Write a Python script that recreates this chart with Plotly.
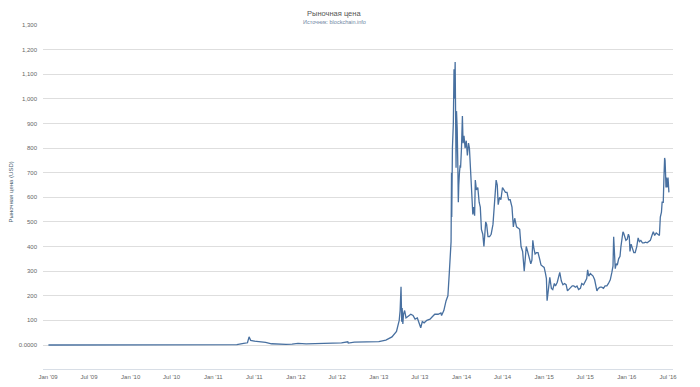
import plotly.graph_objects as go

dates = [
    "2009-01-03", "2009-07-01", "2010-01-01", "2010-07-17", "2010-11-06", "2011-02-10", "2011-04-15",
    "2011-05-15", "2011-06-01", "2011-06-08", "2011-06-15", "2011-07-01", "2011-08-01", "2011-08-20",
    "2011-09-15", "2011-10-20", "2011-11-18", "2011-12-15", "2012-01-10", "2012-02-15", "2012-03-15",
    "2012-05-01", "2012-06-15", "2012-07-20", "2012-08-17", "2012-08-19", "2012-09-15", "2012-10-20",
    "2012-12-01", "2013-01-01", "2013-02-01", "2013-02-28", "2013-03-20", "2013-04-01", "2013-04-05",
    "2013-04-09", "2013-04-12", "2013-04-14", "2013-04-17", "2013-04-20", "2013-04-25", "2013-05-01",
    "2013-05-08", "2013-05-15", "2013-05-22", "2013-06-01", "2013-06-10", "2013-06-20", "2013-06-28",
    "2013-07-05", "2013-07-12", "2013-07-20", "2013-08-01", "2013-08-15", "2013-08-25", "2013-09-05",
    "2013-09-20", "2013-10-02", "2013-10-05", "2013-10-15", "2013-10-25", "2013-11-02", "2013-11-08",
    "2013-11-12", "2013-11-16", "2013-11-18", "2013-11-19", "2013-11-22", "2013-11-26", "2013-11-29",
    "2013-12-01", "2013-12-04", "2013-12-06", "2013-12-08", "2013-12-10", "2013-12-13", "2013-12-16",
    "2013-12-18", "2013-12-20", "2013-12-23", "2013-12-26", "2013-12-28", "2014-01-01", "2014-01-05",
    "2014-01-08", "2014-01-12", "2014-01-17", "2014-01-22", "2014-01-27", "2014-02-01", "2014-02-05",
    "2014-02-10", "2014-02-14", "2014-02-20", "2014-02-24", "2014-02-28", "2014-03-03", "2014-03-08",
    "2014-03-14", "2014-03-20", "2014-03-25", "2014-03-30", "2014-04-05", "2014-04-10", "2014-04-14",
    "2014-04-18", "2014-04-22", "2014-04-28", "2014-05-05", "2014-05-12", "2014-05-20", "2014-05-26",
    "2014-06-03", "2014-06-08", "2014-06-12", "2014-06-18", "2014-06-24", "2014-07-01", "2014-07-07",
    "2014-07-14", "2014-07-21", "2014-07-28", "2014-08-04", "2014-08-12", "2014-08-18", "2014-08-24",
    "2014-09-01", "2014-09-08", "2014-09-15", "2014-09-21", "2014-09-28", "2014-10-05", "2014-10-10",
    "2014-10-14", "2014-10-20", "2014-10-27", "2014-11-03", "2014-11-08", "2014-11-12", "2014-11-17",
    "2014-11-22", "2014-11-28", "2014-12-05", "2014-12-12", "2014-12-18", "2014-12-25", "2015-01-01",
    "2015-01-07", "2015-01-11", "2015-01-14", "2015-01-18", "2015-01-22", "2015-01-26", "2015-02-02",
    "2015-02-08", "2015-02-15", "2015-02-20", "2015-02-28", "2015-03-05", "2015-03-11", "2015-03-18",
    "2015-03-25", "2015-04-01", "2015-04-08", "2015-04-14", "2015-04-20", "2015-04-27", "2015-05-05",
    "2015-05-12", "2015-05-19", "2015-05-26", "2015-06-02", "2015-06-10", "2015-06-16", "2015-06-24",
    "2015-07-01", "2015-07-08", "2015-07-12", "2015-07-17", "2015-07-24", "2015-07-30", "2015-08-05",
    "2015-08-12", "2015-08-18", "2015-08-22", "2015-08-28", "2015-09-05", "2015-09-12", "2015-09-20",
    "2015-09-27", "2015-10-05", "2015-10-12", "2015-10-20", "2015-10-27", "2015-11-01", "2015-11-04",
    "2015-11-07", "2015-11-11", "2015-11-15", "2015-11-20", "2015-11-26", "2015-12-02", "2015-12-06",
    "2015-12-10", "2015-12-15", "2015-12-18", "2015-12-22", "2015-12-28", "2016-01-03", "2016-01-08",
    "2016-01-12", "2016-01-15", "2016-01-20", "2016-01-25", "2016-02-01", "2016-02-07", "2016-02-14",
    "2016-02-20", "2016-02-26", "2016-03-03", "2016-03-10", "2016-03-17", "2016-03-24", "2016-03-31",
    "2016-04-07", "2016-04-14", "2016-04-21", "2016-04-27", "2016-05-03", "2016-05-10", "2016-05-17",
    "2016-05-24", "2016-05-28", "2016-06-02", "2016-06-05", "2016-06-10", "2016-06-13", "2016-06-16",
    "2016-06-18", "2016-06-20", "2016-06-22", "2016-06-24", "2016-06-27", "2016-07-01", "2016-07-05",
]

prices = [
    0, 0, 0, 0.05, 0.4, 1.0, 1.5,
    7, 9, 33, 19, 16, 13, 11,
    5, 3, 2.2, 3.2, 6.5, 4.5, 5,
    5, 6.5, 9, 13, 8, 11.5, 11.5,
    12.5, 13.5, 20, 33, 55, 100, 140,
    237, 95, 150, 85, 125, 140, 110,
    115, 120, 125, 120, 105, 110, 90,
    70, 95, 90, 100, 105, 115, 125,
    125, 130, 120, 140, 180, 200, 290,
    350, 420, 700, 520, 800, 900, 1120,
    1000, 1150, 850, 720, 950, 880, 720,
    580, 650, 700, 730, 720, 800, 930,
    820, 850, 800, 830, 770, 820, 800,
    680, 640, 530, 560, 525, 670, 630,
    640, 580, 560, 470, 450, 400, 460,
    500, 490, 440, 440, 450, 490, 580,
    670, 650, 570, 600, 590, 640, 630,
    620, 620, 590, 590, 560, 480, 515,
    480, 475, 470, 400, 380, 300, 360,
    400, 380, 350, 330, 345, 425, 390,
    370, 375, 375, 350, 325, 320, 315,
    290, 270, 180, 210, 235, 275, 230,
    225, 250, 240, 255, 275, 295, 260,
    245, 250, 245, 220, 225, 230, 240,
    240, 235, 240, 225, 230, 250, 245,
    260, 270, 305, 280, 290, 285, 280,
    265, 240, 220, 230, 235, 235, 230,
    240, 240, 250, 265, 295, 320, 440,
    380, 310, 330, 325, 350, 360, 400,
    420, 460, 455, 440, 425, 430, 450,
    440, 380, 410, 390, 375, 375, 400,
    435, 420, 425, 415, 415, 418, 415,
    422, 425, 445, 460, 445, 455, 450,
    445, 520, 540, 580, 580, 680, 760,
    750, 700, 640, 680, 640, 680, 620,
]

x_tick_vals = ["2009-01-01", "2009-07-01", "2010-01-01", "2010-07-01", "2011-01-01", "2011-07-01",
               "2012-01-01", "2012-07-01", "2013-01-01", "2013-07-01", "2014-01-01", "2014-07-01",
               "2015-01-01", "2015-07-01", "2016-01-01", "2016-07-01"]
x_tick_text = ["Jan '09", "Jul '09", "Jan '10", "Jul '10", "Jan '11", "Jul '11", "Jan '12", "Jul '12",
               "Jan '13", "Jul '13", "Jan '14", "Jul '14", "Jan '15", "Jul '15", "Jan '16", "Jul '16"]
y_tick_vals = [0, 100, 200, 300, 400, 500, 600, 700, 800, 900, 1000, 1100, 1200, 1300]
y_tick_text = ["0.0000", "100", "200", "300", "400", "500", "600", "700", "800", "900",
               "1,000", "1,100", "1,200", "1,300"]

FONT = "Liberation Sans, Arial, sans-serif"
# page body has an 8px margin: the figure is drawn at (8, 8) in the window
OFF = 8
W, H = 700 - 2 * OFF, 387 - 2 * OFF
L, T = 43 - OFF, 25 - OFF
R = W - (673 - OFF)
B = H - (369 - OFF)
PW, PH = W - L - R, H - T - B


def px_x(x):
    """window pixel x -> paper fraction"""
    return (x - OFF - L) / PW


def px_y(y):
    """window pixel y -> paper fraction"""
    return (H - B - (y - OFF)) / PH


fig = go.Figure()
fig.add_trace(go.Scatter(x=dates, y=prices, mode="lines",
                         line=dict(color="#4870a0", width=1.3), hoverinfo="x+y",
                         showlegend=False))

fig.update_layout(
    width=W, height=H,
    margin=dict(l=L, r=R, t=T, b=B, autoexpand=False),
    paper_bgcolor="white", plot_bgcolor="white",
    font=dict(family=FONT, size=6, color="#666666"),
    xaxis=dict(range=["2008-12-10", "2016-07-23"], tickvals=x_tick_vals, ticktext=x_tick_text,
               showgrid=False, zeroline=False, showline=True, linecolor="#d8dee6", linewidth=1,
               ticks="", tickfont=dict(size=6, color="#666666"), ticklabelstandoff=2,
               automargin=False),
    yaxis=dict(range=[-97.5, 1300], tickvals=y_tick_vals, ticktext=y_tick_text,
               showgrid=True, gridcolor="#dedede", gridwidth=1, zeroline=False, showline=False,
               ticks="", tickfont=dict(size=6, color="#666666"), ticklabelstandoff=5,
               automargin=False),
    annotations=[
        dict(text="Рыночная цена", x=px_x(334), y=px_y(8.3), xref="paper", yref="paper",
             showarrow=False, borderpad=0, yanchor="top", font=dict(size=7.5, color="#555555")),
        dict(text="Источник: blockchain.info", x=px_x(334), y=px_y(18.2), xref="paper", yref="paper",
             showarrow=False, borderpad=0, yanchor="top", font=dict(size=5.5, color="#6d869f")),
        dict(text="Рыночная цена (USD)", x=px_x(10.5), y=px_y(192), xref="paper", yref="paper",
             showarrow=False, borderpad=0, textangle=-90, xanchor="center", yanchor="middle",
             font=dict(size=6, color="#4d5f73")),
    ],
)

fig.write_html("out.html")
